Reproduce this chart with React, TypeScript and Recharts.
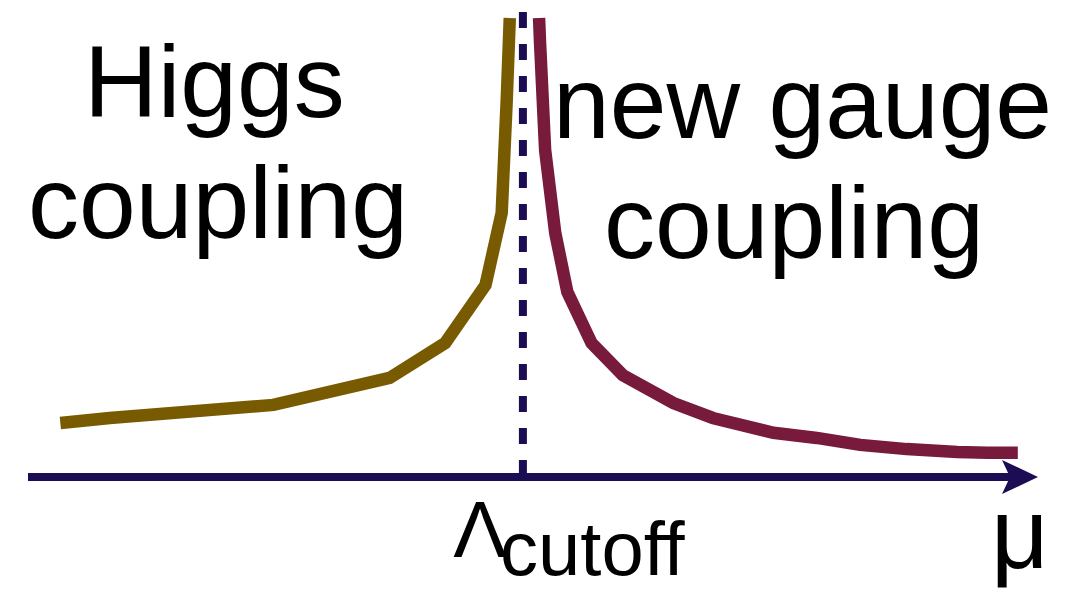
import React from "react";
import { LineChart, Line, XAxis, YAxis, ReferenceLine } from "recharts";

// μ (energy scale, arbitrary units) and couplings (arbitrary units)
const higgsMu = [0.32, 0.81, 2.43, 3.58, 4.13, 4.53, 4.69, 4.74, 4.77];
const higgsCoupling = [11.6, 12.7, 15.5, 21.3, 28.8, 41.3, 56.8, 81.1, 98.7];

const gaugeMu = [5.06, 5.07, 5.12, 5.22, 5.34, 5.58, 5.89, 6.39, 6.78, 7.38, 7.81, 8.24, 8.7, 9.2, 9.5, 9.8];
const gaugeCoupling = [98.7, 93.3, 70.3, 52.5, 39.8, 28.8, 21.9, 15.9, 12.7, 9.5, 8.4, 6.9, 6.0, 5.4, 5.2, 5.2];

const cutoffMu = 4.9;
const muDomain = [0, 10];
const couplingDomain = [0, 100];

const higgsData = higgsMu.map((x, i) => ({ mu: x, g: higgsCoupling[i] }));
const gaugeData = gaugeMu.map((x, i) => ({ mu: x, g: gaugeCoupling[i] }));

const HIGGS = "#785a00";
const GAUGE = "#781a3c";
const NAVY = "#1c0c54";
const FONT = "'Liberation Sans', Arial, Helvetica, sans-serif";

const AxisArrow = (p: any) => {
  const { x1, y1, x2, y2 } = p;
  return (
    <g>
      <line x1={x1} y1={y1} x2={x2 - 22} y2={y2} stroke={NAVY} strokeWidth={8} />
      <polygon
        points={`${x2},${y2} ${x2 - 36},${y2 - 17} ${x2 - 28},${y2} ${x2 - 36},${y2 + 17}`}
        fill={NAVY}
      />
    </g>
  );
};

export default function App() {
  return (
    <div style={{ position: "absolute", left: 0, top: 0, background: "#fff" }}>
      <LineChart
        width={1084}
        height={590}
        margin={{ top: 12, right: 46, bottom: 113, left: 28 }}
      >
        <XAxis type="number" dataKey="mu" domain={muDomain} hide allowDataOverflow />
        <YAxis type="number" dataKey="g" domain={couplingDomain} hide allowDataOverflow />
        <ReferenceLine
          segment={[{ x: muDomain[0], y: 0 }, { x: muDomain[1], y: 0 }]}
          stroke={NAVY}
          strokeWidth={8}
          shape={AxisArrow}
          ifOverflow="visible"
        />
        <ReferenceLine
          segment={[{ x: cutoffMu, y: couplingDomain[1] }, { x: cutoffMu, y: 0 }]}
          stroke={NAVY}
          strokeWidth={8}
          strokeDasharray="16 16"
          ifOverflow="visible"
        />
        <Line
          data={higgsData}
          dataKey="g"
          type="linear"
          stroke={HIGGS}
          strokeWidth={12.5}
          dot={false}
          activeDot={false}
          isAnimationActive={false}
          strokeLinejoin="miter"
        />
        <Line
          data={gaugeData}
          dataKey="g"
          type="linear"
          stroke={GAUGE}
          strokeWidth={12.5}
          dot={false}
          activeDot={false}
          isAnimationActive={false}
          strokeLinejoin="miter"
        />
        <text x={84} y={117} fontSize={102} fontFamily={FONT} fill="#000">Higgs</text>
        <text x={28} y={238} fontSize={102} fontFamily={FONT} fill="#000">coupling</text>
        <text x={553} y={138} fontSize={102} fontFamily={FONT} fill="#000">new gauge</text>
        <text x={604} y={258} fontSize={102} fontFamily={FONT} fill="#000">coupling</text>
        <text x={480} y={557} fontSize={80} fontFamily={FONT} fill="#000" textAnchor="middle">Λ</text>
        <text x={500} y={575} fontSize={76} fontFamily={FONT} fill="#000">cutoff</text>
        <text x={991} y={568} fontSize={100} fontFamily={FONT} fill="#000">μ</text>
      </LineChart>
    </div>
  );
}
